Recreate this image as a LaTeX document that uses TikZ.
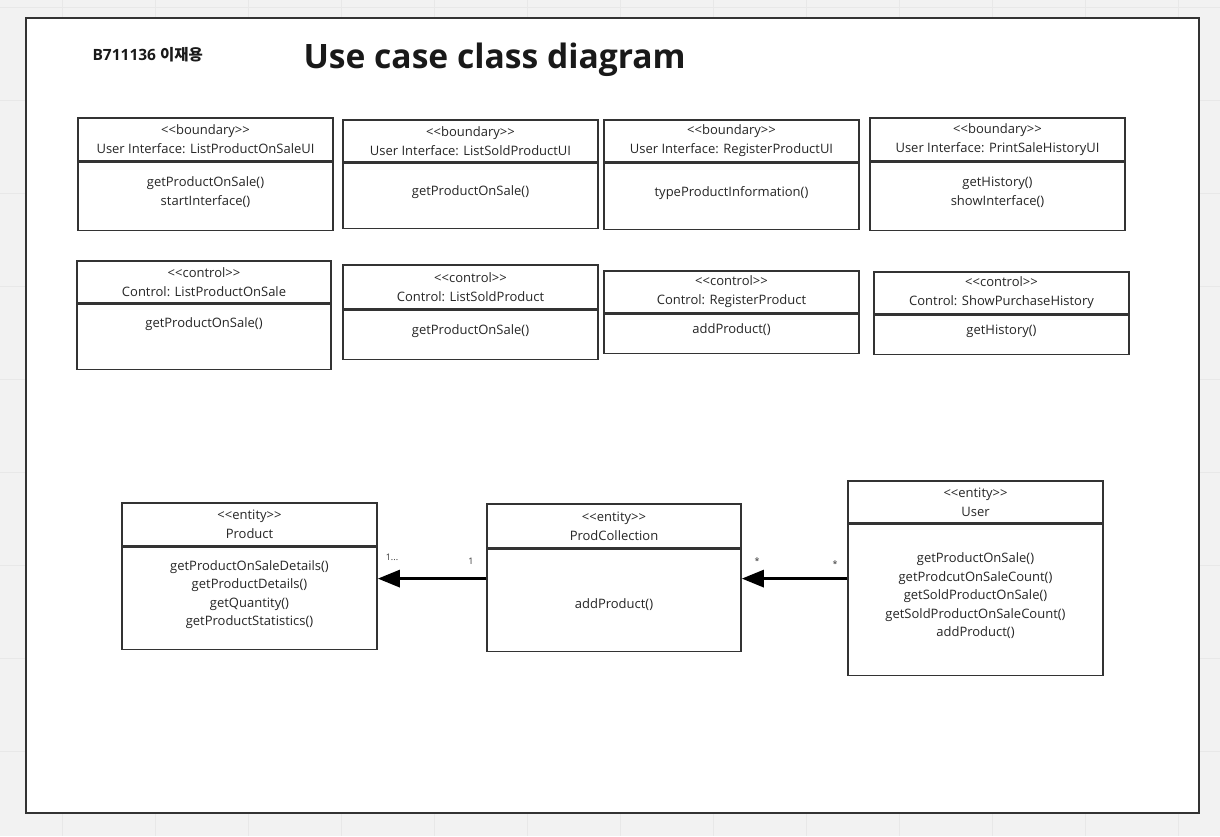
\documentclass[tikz,border=0pt]{standalone}
\usepackage{fontspec}
\setmainfont{Open Sans}
\newfontfamily\kr{Noto Sans CJK KR}
\usetikzlibrary{positioning, arrows.meta}

\tikzset{
    head/.style={draw=black!80, line width=1.6pt, align=center, inner sep=0pt, text=black!85,
        font=\fontsize{13}{19}\selectfont},
    body/.style={head, font=\fontsize{13}{18.5}\selectfont, text depth=11pt},
    assoc/.style={line width=3pt, -{Triangle[length=22pt,width=17pt]}},
    mult/.style={font=\fontsize{9}{9}\selectfont, text=black!80}
}
\newcommand{\stereo}[1]{<\kern0pt<#1>\kern0pt>}

\begin{document}
\begin{tikzpicture}[x=1pt, y=-1pt]
        \useasboundingbox (0,0) rectangle (1220,836);

        % Board background with grid
        \fill[black!5] (0,0) rectangle (1220,836);
        \foreach \gx in {62,155,...,1178}
            \draw[black!9, line width=1pt] (\gx,0) -- (\gx,836);
        \foreach \gy in {7,100,...,844}
            \draw[black!9, line width=1pt] (0,\gy) -- (1220,\gy);
        \draw[fill=white, draw=black!80, line width=2pt] (26,18) rectangle (1199,813);

        % Title
        \node[anchor=base west, font=\fontsize{15.5}{18}\selectfont\bfseries, text=black!90] (sid) at (89,60) {B711136 {\kr 이재용}};
        \node[anchor=base west, font=\fontsize{33.6}{40}\selectfont\bfseries, text=black!90] (title) at (300,68) {Use case class diagram};

        % Boundary classes
        \node[head, minimum width=255, minimum height=43] (b1h) at (205.5,139.5) {\stereo{boundary}\\User Interface: ListProductOnSaleUI};
        \node[body, minimum width=255, minimum height=68, below=0pt of b1h] (b1b) {getProductOnSale()\\startInterface()};

        \node[head, minimum width=255, minimum height=42] (b2h) at (470.5,141) {\stereo{boundary}\\User Interface: ListSoldProductUI};
        \node[body, minimum width=255, minimum height=65, below=0pt of b2h] (b2b) {getProductOnSale()};

        \node[head, minimum width=255, minimum height=42] (b3h) at (731.5,141) {\stereo{boundary}\\User Interface: RegisterProductUI};
        \node[body, minimum width=255, minimum height=66, below=0pt of b3h] (b3b) {typeProductInformation()};

        \node[head, minimum width=255, minimum height=43] (b4h) at (997.5,139.5) {\stereo{boundary}\\User Interface: PrintSaleHistoryUI};
        \node[body, minimum width=255, minimum height=68, below=0pt of b4h] (b4b) {getHistory()\\showInterface()};

        % Control classes
        \node[head, minimum width=254, minimum height=42] (c1h) at (204,282) {\stereo{control}\\Control: ListProductOnSale};
        \node[body, minimum width=254, minimum height=65, below=0pt of c1h] (c1b) {getProductOnSale()\\~};

        \node[head, minimum width=255, minimum height=44] (c2h) at (470.5,287) {\stereo{control}\\Control: ListSoldProduct};
        \node[body, minimum width=255, minimum height=49, below=0pt of c2h] (c2b) {getProductOnSale()};

        \node[head, minimum width=255, minimum height=42] (c3h) at (731.5,292) {\stereo{control}\\Control: RegisterProduct};
        \node[body, minimum width=255, minimum height=39, below=0pt of c3h] (c3b) {addProduct()};

        \node[head, minimum width=255, minimum height=42] (c4h) at (1001.5,293) {\stereo{control}\\Control: ShowPurchaseHistory};
        \node[body, minimum width=255, minimum height=39, below=0pt of c4h] (c4b) {getHistory()};

        % Entity classes
        \node[head, minimum width=255, minimum height=43] (ph) at (249.5,524.5) {\stereo{entity}\\Product};
        \node[body, minimum width=255, minimum height=102, below=0pt of ph] (pb) {getProductOnSaleDetails()\\getProductDetails()\\getQuantity()\\getProductStatistics()};

        \node[head, minimum width=254, minimum height=44] (pch) at (614,526) {\stereo{entity}\\ProdCollection};
        \node[body, minimum width=254, minimum height=102, below=0pt of pch, text depth=3.5pt, text height=19pt] (pcb) {addProduct()};

        \node[head, minimum width=255, minimum height=42] (uh) at (975.5,502) {\stereo{entity}\\User};
        \node[body, minimum width=255, minimum height=151, below=0pt of uh] (ub) {getProductOnSale()\\getProdcutOnSaleCount()\\getSoldProductOnSale()\\getSoldProductOnSaleCount()\\addProduct()};

        % Associations
        \draw[assoc] ([yshift=22pt]pcb.west) -- ([yshift=20pt]pb.east);
        \draw[assoc] ([yshift=21.5pt]ub.west) -- ([yshift=22pt]pcb.east);

        % Multiplicities
        \node[mult] (m1) at (392,557) {1...};
        \node[mult] (m2) at (471,561) {1};
        \node[mult] (m3) at (757,561) {*};
        \node[mult] (m4) at (835,564) {*};
    \end{tikzpicture}
\end{document}
